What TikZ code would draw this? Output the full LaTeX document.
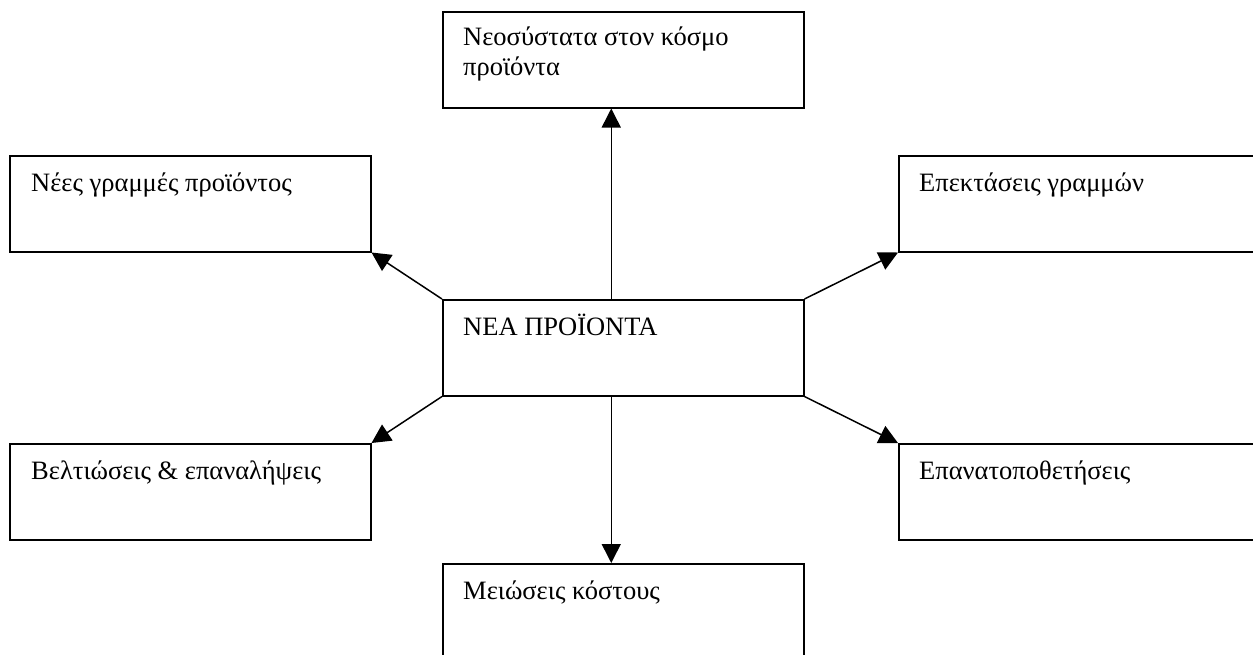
\documentclass[tikz,border=0pt]{standalone}
\usepackage{fontspec}
\setmainfont{Liberation Serif}
\usetikzlibrary{arrows.meta}
\begin{document}
\begin{tikzpicture}[x=1pt,y=-1pt,
  box/.style={draw=black, line width=1.5pt, minimum height=96pt, inner sep=0pt,
              anchor=north west},
  narrowbox/.style={box, minimum width=361pt},
  widebox/.style={box, minimum width=390pt},
  txt/.style={anchor=base west, inner sep=0pt, align=left,
              font=\fontsize{26.5}{30}\selectfont},
  link/.style={line width=1.5pt, -{Triangle[length=19pt,width=19pt]}}]
  \useasboundingbox (0,0) rectangle (1253,654);
  \clip (0,0) rectangle (1253,654);

  % boxes
  \node[narrowbox] (top) at (442,11) {};
  \node[narrowbox] (lt)  at (9,155) {};
  \node[widebox]   (rt)  at (898,155) {};
  \node[narrowbox] (ctr) at (442,299) {};
  \node[narrowbox] (lb)  at (9,443) {};
  \node[widebox]   (rb)  at (898,443) {};
  \node[narrowbox] (bot) at (442,563) {};

  % labels (a two-line label sits on the baseline of its last line)
  \node[txt] (ttop) at ([shift={(21,64)}]top.north west) {Νεοσύστατα στον κόσμο\\προϊόντα};
  \node[txt] (tlt)  at ([shift={(22,36)}]lt.north west)  {Νέες γραμμές προϊόντος};
  \node[txt] (trt)  at ([shift={(21,36)}]rt.north west)  {Επεκτάσεις γραμμών};
  \node[txt] (tctr) at ([shift={(21,36)}]ctr.north west) {ΝΕΑ ΠΡΟΪΟΝΤΑ};
  \node[txt] (tlb)  at ([shift={(22,36)}]lb.north west)  {Βελτιώσεις \& επαναλήψεις};
  \node[txt] (trb)  at ([shift={(21,36)}]rb.north west)  {Επανατοποθετήσεις};
  \node[txt] (tbot) at ([shift={(21,36)}]bot.north west) {Μειώσεις κόστους};

  % connectors
  \draw[link] ([xshift=-12pt]ctr.north) -- ([xshift=-12pt]top.south);
  \draw[link] ([xshift=-12pt]ctr.south) -- ([xshift=-12pt]bot.north);
  \draw[link] (ctr.north west) -- (lt.south east);
  \draw[link] (ctr.north east) -- (rt.south west);
  \draw[link] (ctr.south west) -- (lb.north east);
  \draw[link] (ctr.south east) -- (rb.north west);
\end{tikzpicture}
\end{document}
